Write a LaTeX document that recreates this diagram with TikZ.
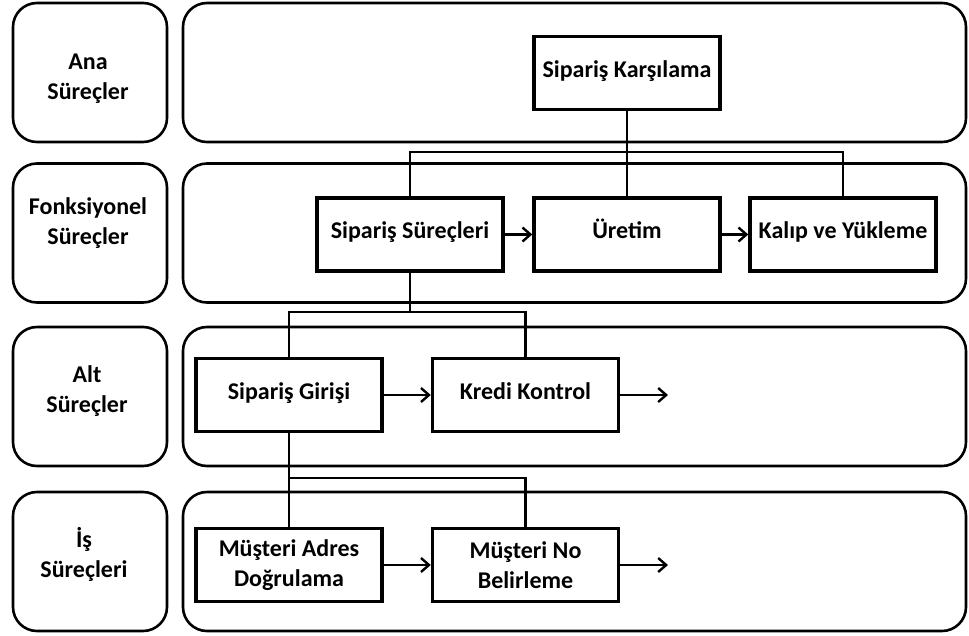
\documentclass[tikz,border=0pt]{standalone}
\usepackage{fontspec}
\setmainfont{Carlito}
\usetikzlibrary{positioning,arrows.meta}

\begin{document}
\begin{tikzpicture}[x=1pt,y=-1pt,on grid,
    >={Straight Barb[length=8pt,width=14pt]},
    font=\bfseries\fontsize{24}{30}\selectfont,
    tag/.style={draw,line width=2.6pt,rounded corners=24pt,minimum width=154pt,minimum height=139pt},
    lane/.style={draw,line width=2.6pt,rounded corners=24pt,minimum width=783pt,minimum height=139pt},
    proc/.style={draw,line width=3.4pt,minimum width=186pt,minimum height=73pt,align=center},
    single/.style={text height=13pt,text depth=5pt},
    link/.style={line width=2.4pt}]
  \useasboundingbox (0,0) rectangle (969,635);
  % levels
  \node[tag] (tag1) at (90,72.5) {};
  \node[tag] (tag2) at (90,233) {};
  \node[tag] (tag3) at (90,396.5) {};
  \node[tag] (tag4) at (90,561.5) {};
  \node[lane] (lane1) at (574.5,72.5) {};
  \node[lane] (lane2) at (574.5,233) {};
  \node[lane] (lane3) at (574.5,396.5) {};
  \node[lane] (lane4) at (574.5,561.5) {};
  \node[align=center] (ana) at (88,79) {Ana\\Süreçler};
  \node[align=center] (fonk) at (88,223) {Fonksiyonel\\Süreçler};
  \node[align=center] (alt) at (87,391) {Alt\\Süreçler};
  \node[align=center] (is) at (84,554) {İş\\Süreçleri};
  % processes
  \node[proc,single] (kars) at (627,73) {Sipariş Karşılama};
  \node[proc,single] (sipsur) at (410,234.5) {Sipariş Süreçleri};
  \node[proc,single] [right=217pt of sipsur] (uret) {Üretim};
  \node[proc,single] [right=216pt of uret] (kalip) {Kalıp ve Yükleme};
  \node[proc,single] (giris) at (289,395) {Sipariş Girişi};
  \node[proc,single] [right=236.5pt of giris] (kredi) {Kredi Kontrol};
  \node[proc] [below=170pt of giris] (adres) {Müşteri Adres\\Doğrulama};
  \node[proc] [right=236.5pt of adres] (musno) {Müşteri No\\Belirleme};
  \coordinate (bus1) at (627,152);
  \coordinate (bus2) at (410,312);
  \coordinate (bus3) at (527,478);
  \coordinate (end1) at (668,395);
  \coordinate (end2) at (668,565);
  % tree
  \draw[link] (kars.south) -- (uret.north);
  \draw[link] (sipsur.north) |- (bus1) -| (kalip.north);
  \draw[link] (sipsur.south) -- (bus2);
  \draw[link] (giris.north) |- (bus2) -| (kredi.north);
  \draw[link] (giris.south) -- (adres.north);
  \draw[link] (adres.north |- bus3) -| (musno.north);
  \path[->,link]
    (sipsur) edge (uret)
    (uret) edge (kalip)
    (giris) edge (kredi)
    (kredi) edge (end1)
    (adres) edge (musno)
    (musno) edge (end2);
\end{tikzpicture}
\end{document}
